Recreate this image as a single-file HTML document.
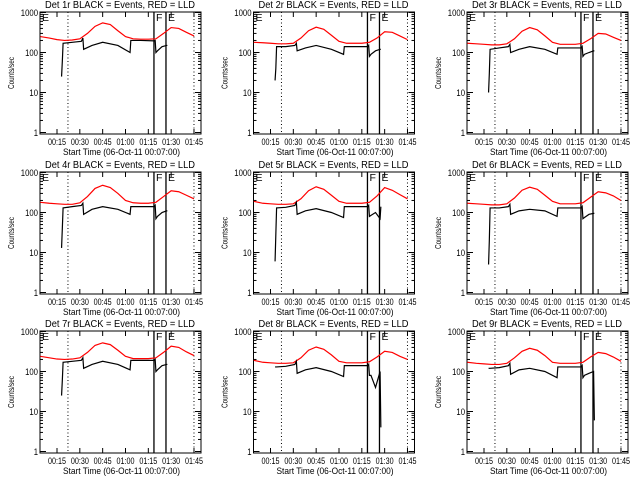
<!DOCTYPE html>
<html><head><meta charset="utf-8"><style>
html,body{margin:0;padding:0;background:#fff;}
svg{display:block;font-family:"Liberation Sans",sans-serif;}
</style></head><body>
<svg id="chart" width="640" height="480" viewBox="0 0 640 480"></svg>
<script>
const redTimes=[4,10,15,20,25,30,35,40,45,50,55,60,65,70,75,80,85,90,95,100,105];
const blackTimes=[18,18.5,19,25,31,32,32.5,38,45,55,63,63.5,70,79,79.5,80,81,84,87,87.5];
const red1=[250,230,210,200,205,220,300,450,550,500,350,250,220,215,215,220,300,420,400,320,260];
const red2=[180,175,170,165,165,170,230,350,430,380,270,190,170,170,170,180,230,330,320,260,210];
const red3=[170,165,160,155,155,165,220,340,420,370,260,180,160,160,160,170,220,300,290,240,200];
const red4=[180,170,165,160,160,175,250,400,480,420,300,200,175,170,170,180,250,350,330,270,220];
const red5=[190,170,165,160,160,165,220,350,440,380,270,190,170,170,170,180,260,420,360,280,220];
const red6=[170,165,160,155,155,165,230,360,430,380,270,190,165,165,165,175,240,330,310,260,200];
const red7=[240,220,205,200,205,220,300,450,520,470,340,240,210,210,210,220,300,430,400,310,250];
const red8=[190,170,165,160,160,165,220,340,410,360,260,180,165,165,165,175,230,320,300,240,200];
const red9=[170,160,155,150,150,160,220,320,380,340,250,170,160,160,160,170,230,300,280,230,180];
const black1=[25,60,170,180,190,230,120,150,180,150,100,200,200,195,200,100,110,140,150,150];
const black2=[20,40,140,140,150,170,110,130,150,120,90,140,140,140,150,80,90,110,120,120];
const black3=[10,30,120,130,140,160,100,120,140,120,90,130,130,130,140,80,90,100,110,110];
const black4=[13,40,130,140,150,170,90,120,140,120,90,140,140,140,150,70,80,100,110,110];
const black5=[6,28,130,135,150,180,90,110,125,100,75,140,140,140,150,80,85,100,70,140];
const black6=[5,20,130,130,140,160,90,110,120,110,80,130,130,130,140,70,75,90,95,95];
const black7=[25,60,170,180,190,220,120,150,180,150,110,190,190,190,200,100,110,140,150,150];
const black8=[130,130,130,135,150,180,90,110,125,100,75,140,140,140,150,80,80,40,100,4];
const black9=[120,120,120,125,140,160,85,110,120,100,70,130,130,130,140,70,80,90,100,6];
const xTickLabels=["00:15","00:30","00:45","01:00","01:15","01:30","01:45"];
const xTickTimes=[15,30,45,60,75,90,105];
const yTickLabels=["1","10","100","1000"];
const yTickValues=[1,10,100,1000];
const lineTimes=[22.2,78.7,86.6,105];
const reds=[red1,red2,red3,red4,red5,red6,red7,red8,red9];
const blacks=[black1,black2,black3,black4,black5,black6,black7,black8,black9];

const NS="http://www.w3.org/2000/svg";
const svg=document.getElementById('chart');
function mk(tag,attrs,parent){const e=document.createElementNS(NS,tag);for(const k in attrs)e.setAttribute(k,attrs[k]);(parent||svg).appendChild(e);return e;}
const W=161,H=122,T0=3.83,PXM=1.522;
const lefts=[40,253.5,467],tops=[12,172,331];
for(let i=0;i<9;i++){
  const L=lefts[i%3],Tp=tops[Math.floor(i/3)];
  const xs=t=>L+(t-T0)*PXM;
  const ys=v=>Tp+H-1.5-Math.log10(v)*40;
  const g=mk('g',{});
  
  
  const ttl=mk('text',{x:L+5,y:Tp-4,'font-size':'10',textLength:150,lengthAdjust:'spacingAndGlyphs'},g);
  ttl.textContent='Det '+(i+1)+'r BLACK = Events, RED = LLD';
  
  
  const box=mk('rect',{x:L,y:Tp,width:W,height:H,fill:'none',stroke:'#000','stroke-width':1},g);
  
  
  yTickValues.forEach((v,k)=>{
    const y=ys(v);
    mk('line',{x1:L,x2:L+6,y1:y,y2:y,stroke:'#000'},g);
    mk('line',{x1:L+W-6,x2:L+W,y1:y,y2:y,stroke:'#000'},g);
    const s=yTickLabels[k];
    const tl=mk('text',{x:L-2,y:y+3.5,'text-anchor':'end','font-size':'9',textLength:s.length*4.3,lengthAdjust:'spacingAndGlyphs'},g);
    tl.textContent=s;
    
    
    if(v<1000)for(let m=2;m<10;m++){const yy=ys(v*m);
      mk('line',{x1:L,x2:L+3,y1:yy,y2:yy,stroke:'#000'},g);
      mk('line',{x1:L+W-3,x2:L+W,y1:yy,y2:yy,stroke:'#000'},g);}
  });
  xTickTimes.forEach((t,k)=>{
    const x=xs(t);
    mk('line',{x1:x,x2:x,y1:Tp+H,y2:Tp+H-5,stroke:'#000'},g);
    mk('line',{x1:x,x2:x,y1:Tp,y2:Tp+5,stroke:'#000'},g);
    const tl=mk('text',{x:x-9,y:Tp+H+11,'font-size':'9',textLength:18,lengthAdjust:'spacingAndGlyphs'},g);
    tl.textContent=xTickLabels[k];
    
    
  });
  const xt=mk('text',{x:L+23,y:Tp+H+21,'font-size':'9.5',textLength:117,lengthAdjust:'spacingAndGlyphs'},g);
  xt.textContent='Start Time (06-Oct-11 00:07:00)';
  
  
  const yt=mk('text',{x:-16,y:0,'font-size':'8.5',textLength:32,lengthAdjust:'spacingAndGlyphs',transform:'translate('+(L-26)+','+(Tp+H/2)+') rotate(-90)'},g);
  yt.textContent='Counts/sec';
  
  
  lineTimes.forEach((t,k)=>{
    const x=xs(t);
    const ln=mk('line',{x1:x,x2:x,y1:Tp,y2:Tp+H,stroke:'#000','stroke-width':(k==1||k==2)?1.3:1,'stroke-dasharray':(k==0||k==3)?'1,2.5':'none'},g);
    
    
  });
  [['E',L+2],['F',xs(lineTimes[1])+2],['E',xs(lineTimes[2])+2]].forEach(([s,x])=>{
    const tx=mk('text',{x:x,y:Tp+9,'font-size':'10.5'},g);
    tx.textContent=s;
    
    
  });
  const rp=mk('polyline',{points:redTimes.map((t,k)=>xs(t)+','+ys(reds[i][k])).join(' '),fill:'none',stroke:'#ff0000','stroke-width':1.2},g);
  
  
  const bp=mk('polyline',{points:blackTimes.map((t,k)=>xs(t)+','+ys(blacks[i][k])).join(' '),fill:'none',stroke:'#000','stroke-width':1.2},g);
  
  
}
</script>
</body></html>
